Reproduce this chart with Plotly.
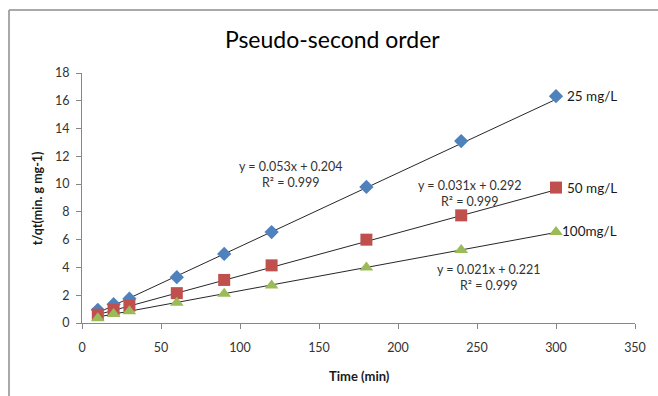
import plotly.graph_objects as go

# Contact time (min)
time_min = [10, 20, 30, 60, 90, 120, 180, 240, 300]

# t/qt for each initial concentration
qt_25 = [0.95, 1.35, 1.75, 3.3, 4.97, 6.55, 9.8, 13.1, 16.33]
qt_50 = [0.6, 0.95, 1.25, 2.15, 3.1, 4.15, 6.0, 7.75, 9.75]
qt_100 = [0.35, 0.65, 0.85, 1.45, 2.1, 2.7, 4.0, 5.25, 6.55]

series_names = ["25 mg/L", "50 mg/L", "100mg/L"]

# Linear fit parameters (slope, intercept, R²)
slopes = [0.053, 0.031, 0.021]
intercepts = [0.204, 0.292, 0.221]
r2_values = [0.999, 0.999, 0.999]

x_ticks = [0, 50, 100, 150, 200, 250, 300, 350]
y_ticks = [0, 2, 4, 6, 8, 10, 12, 14, 16, 18]

colors = ["#4F81BD", "#C0504D", "#9BBB59"]
symbols = ["diamond", "square", "triangle-up"]
sizes = [11, 12, 12]
series_values = [qt_25, qt_50, qt_100]

FONT = "Lato"

fig = go.Figure()

# Fitted trendlines
x0, x1 = time_min[0], time_min[-1]
for m, b in zip(slopes, intercepts):
    fig.add_trace(go.Scatter(
        x=[x0, x1], y=[m * x0 + b, m * x1 + b], mode="lines",
        line=dict(color="#262626", width=1), showlegend=False, hoverinfo="skip"))

# Measured points
for name, vals, c, s, sz in zip(series_names, series_values, colors, symbols, sizes):
    fig.add_trace(go.Scatter(
        x=time_min, y=vals, mode="markers", name=name,
        marker=dict(color=c, symbol=s, size=sz, line=dict(width=0)),
        showlegend=False))

annotations = []
# Series labels beside the last point
label_offsets = [(9, 0), (9, 0), (4, 1)]
for name, vals, (dx, dy) in zip(series_names, series_values, label_offsets):
    annotations.append(dict(
        x=time_min[-1], y=vals[-1], xref="x", yref="y", text=name,
        showarrow=False, xanchor="left", yanchor="middle", xshift=dx, yshift=dy,
        font=dict(family=FONT, size=13.5, color="#1a1a1a")))

# Fit equations
eq_pos = [(132, 10.69), (245.6, 9.29), (257.5, 3.31)]
for (ex, ey), m, b, r2 in zip(eq_pos, slopes, intercepts, r2_values):
    annotations.append(dict(
        x=ex, y=ey, xref="x", yref="y",
        text=f"y = {m:.3f}x + {b:.3f}<br>R² = {r2:.3f}",
        showarrow=False, xanchor="center", yanchor="middle", align="center",
        font=dict(family=FONT, size=12.5, color="#333333")))

# Axis titles
annotations.append(dict(
    x=0.501, y=-0.212, xref="paper", yref="paper", text="<b>Time (min)</b>",
    showarrow=False, xanchor="center", yanchor="middle",
    font=dict(family=FONT, size=13, color="#1a1a1a")))
annotations.append(dict(
    x=-0.081, y=0.5, xref="paper", yref="paper", text="<b>t/qt(min. g mg-1)</b>",
    showarrow=False, xanchor="center", yanchor="middle", textangle=-90,
    font=dict(family=FONT, size=12.5, color="#1a1a1a")))

# Chart frame (top and left edges)
shapes = [
    dict(type="line", xref="paper", yref="paper", x0=-0.132, x1=1.2,
         y0=1.252, y1=1.252, line=dict(color="#8c8c8c", width=1.5)),
    dict(type="line", xref="paper", yref="paper", x0=-0.132, x1=-0.132,
         y0=1.252, y1=-0.4, line=dict(color="#8c8c8c", width=1.5)),
]

fig.update_layout(
    width=658, height=396,
    margin=dict(l=82, r=16, t=73, b=73),
    paper_bgcolor="white", plot_bgcolor="white",
    title=dict(text="Pseudo-second order", x=0.505, xanchor="center",
               y=0.9, yanchor="middle",
               font=dict(family=FONT, size=23, color="#000000")),
    annotations=annotations, shapes=shapes,
    xaxis=dict(range=[0, 350], tickvals=x_ticks, showgrid=False, zeroline=False,
               showline=True, linecolor="#868686", linewidth=1,
               ticks="outside", ticklen=5, tickcolor="#868686",
               ticklabelstandoff=8,
               tickfont=dict(family=FONT, size=12.5, color="#333333")),
    yaxis=dict(range=[0, 18], tickvals=y_ticks, showgrid=False, zeroline=False,
               showline=True, linecolor="#868686", linewidth=1,
               ticks="outside", ticklen=5, tickcolor="#868686",
               ticklabelstandoff=4,
               tickfont=dict(family=FONT, size=12.5, color="#333333")),
)

fig.write_html("out.html")
